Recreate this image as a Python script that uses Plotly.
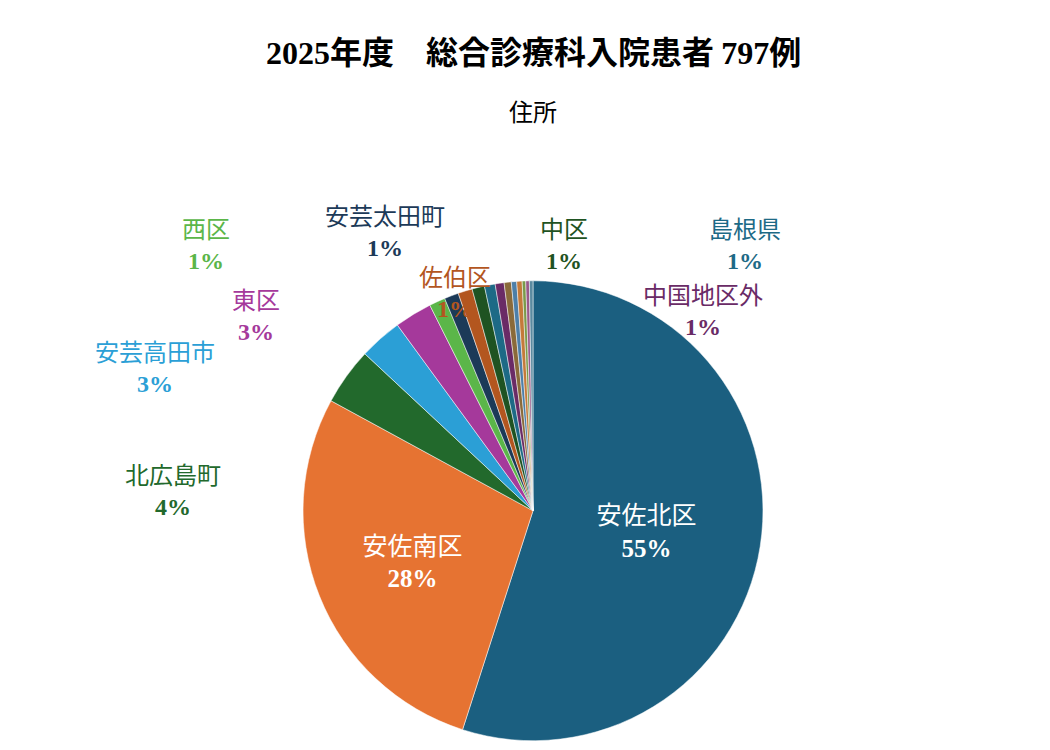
import plotly.graph_objects as go

labels = ["安佐北区", "安佐南区", "北広島町", "安芸高田市", "東区", "西区", "安芸太田町",
          "佐伯区", "中区", "島根県", "中国地区外", "その他1", "その他2", "その他3",
          "その他4", "その他5", "その他6"]
values = [438, 223, 32, 24, 21, 9, 8, 8, 7, 6, 5, 4, 3, 3, 2, 2, 2]
colors = ["#1b5f80", "#e67332", "#22692c", "#2b9fd6", "#a5399b", "#5bb649", "#1c3a58",
          "#b3561f", "#1f5322", "#1d6a86", "#6a2b66", "#8a6a3a", "#4d7fa8", "#c47a3a",
          "#7a9a4a", "#9a5a8a", "#5a8aa0"]
text_colors = ["white", "white", "#22692c", "#2b9fd6", "#a5399b", "#5bb649", "#1c3a58",
               "#b3561f", "#1f5322", "#1d6a86", "#6a2b66"]
# label placement (paper coords) for the small slices
label_pos = {"北広島町": (0.102, 0.356), "安芸高田市": (0.073, 0.525), "東区": (0.206, 0.596),
             "西区": (0.157, 0.74), "安芸太田町": (0.296, 0.757), "佐伯区": (0.424, 0.674),
             "中区": (0.53, 0.74), "島根県": (0.743, 0.74), "中国地区外": (0.665, 0.603)}

total = sum(values)
pct = [max(round(v / total * 100), 1) for v in values]


def fmt(lab, p):
    return f"{lab}<br><b><span style='font-family:Liberation Serif'>{p}%</span></b>"


texts = [fmt(labels[i], pct[i]) if i < 2 else "" for i in range(len(labels))]

fig = go.Figure(go.Pie(
    labels=labels, values=values, sort=False, direction="clockwise", rotation=0,
    marker=dict(colors=colors, line=dict(color="white", width=0.5)),
    text=texts, textinfo="text", textposition="inside",
    textfont=dict(color="white", size=25, family="Noto Sans CJK JP"),
    insidetextorientation="horizontal",
    showlegend=False, hoverinfo="label+value+percent",
    domain=dict(x=[0.0, 1.0], y=[0.01, 0.64]),
))

annotations = [
    dict(text="<b><span style='font-family:Liberation Serif'>2025</span>年度　総合診療科入院患者 <span style='font-family:Liberation Serif'>797</span>例</b>",
         x=0.5, y=0.99, yanchor="top", xref="paper", yref="paper", showarrow=False,
         font=dict(size=32, color="black", family="Noto Sans CJK JP")),
    dict(text="住所", x=0.5, y=0.9, yanchor="top", xref="paper", yref="paper", showarrow=False,
         font=dict(size=24, color="black", family="Noto Sans CJK JP")),
]
for i, lab in enumerate(labels[:len(text_colors)]):
    if lab in label_pos:
        x, y = label_pos[lab]
        annotations.append(dict(text=fmt(lab, pct[i]), x=x, y=y, xref="paper", yref="paper",
                                showarrow=False,
                                font=dict(size=24, color=text_colors[i], family="Noto Sans CJK JP")))

fig.update_layout(
    width=1050, height=750, paper_bgcolor="white",
    margin=dict(l=10, r=10, t=10, b=10),
    annotations=annotations,
)
fig.write_html("out.html")
